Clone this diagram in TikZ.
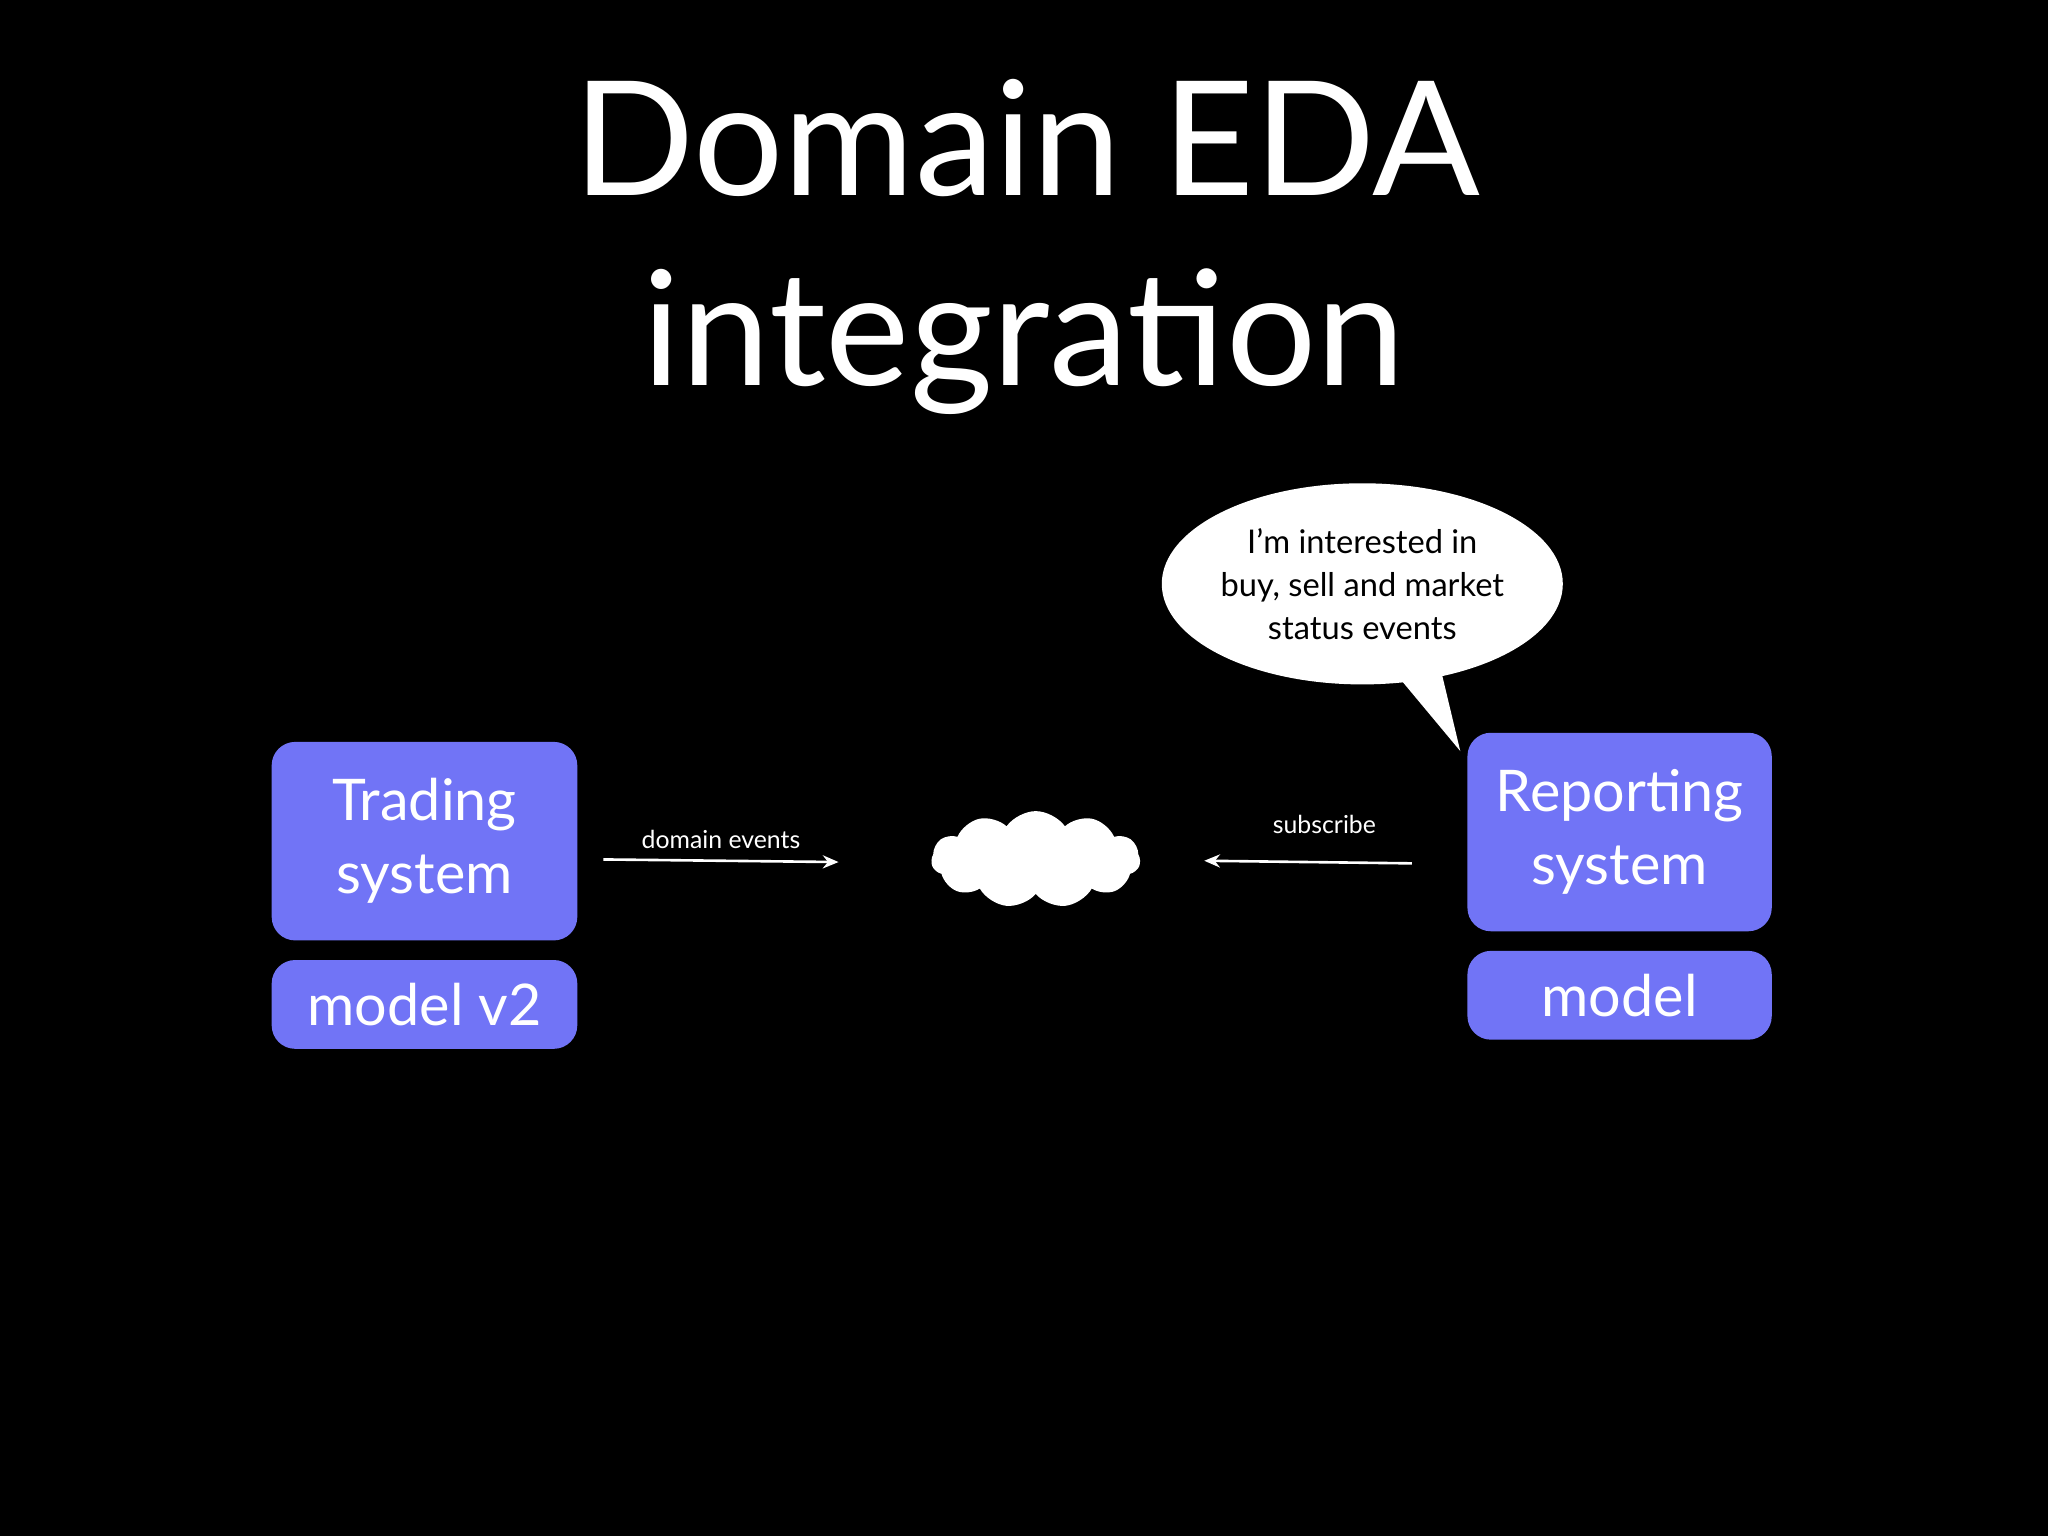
\documentclass[tikz,border=0pt]{standalone}
\usepackage{fontspec}
\setmainfont{Lato}
\usetikzlibrary{shapes.symbols,shapes.geometric,arrows.meta}
\definecolor{boxc}{HTML}{7174F6}
\begin{document}
\begin{tikzpicture}[x=1pt,y=-1pt,
  box/.style={fill=boxc,rounded corners=18pt,draw=none,text=white,align=center,inner sep=0pt},
  arr/.style={draw=white,line width=2pt,-{Stealth[length=12pt,width=10pt,open]}},
  lbl/.style={text=white,font=\fontsize{19}{22}\selectfont}]
\fill[black] (0,0) rectangle (1568,1176);
\useasboundingbox (0,0) rectangle (1568,1176);
\node[text=white,font=\fontsize{122}{146}\selectfont,anchor=base] (t1) at (786,150) {Domain EDA};
\node[text=white,font=\fontsize{122}{146}\selectfont,anchor=base] (t2) at (784,295) {integration};
\node[box,minimum width=234pt,minimum height=152pt,font=\fontsize{44}{56}\selectfont] (trad) at (325,644) {Trading\\system};
\node[box,minimum width=234pt,minimum height=68pt,font=\fontsize{44}{56}\selectfont] (mv2) at (325,769) {model v2};
\node[box,minimum width=233pt,minimum height=152pt,font=\fontsize{44}{56}\selectfont] (rep) at (1240,637) {Reporting\\system};
\node[box,minimum width=233pt,minimum height=68pt,font=\fontsize{44}{56}\selectfont] (mod) at (1240,762) {model};
\node[cloud,cloud puffs=11,cloud puff arc=110,aspect=2.3,fill=white,draw=none,minimum width=160pt,minimum height=74pt] (cl) at (793,658) {};
\coordinate (a1s) at (462,658);
\coordinate (a1e) at (642,660);
\draw[arr] (a1s) -- (a1e);
\node[lbl] (l1) at (552,643) {domain events};
\coordinate (a2s) at (1081,661);
\coordinate (a2e) at (922,659);
\draw[arr] (a2s) -- (a2e);
\node[lbl] (l2) at (1014,631) {subscribe};
\fill[white] (1068,515) -- (1118,575) -- (1102,508) -- cycle;
\node[ellipse,fill=white,minimum width=288pt,minimum height=154pt,inner sep=0pt,align=center,
  font=\fontsize{25}{33}\selectfont,text=black] (bub) at (1043,447) {I’m interested in\\buy, sell and market\\status events};
\end{tikzpicture}
\end{document}
